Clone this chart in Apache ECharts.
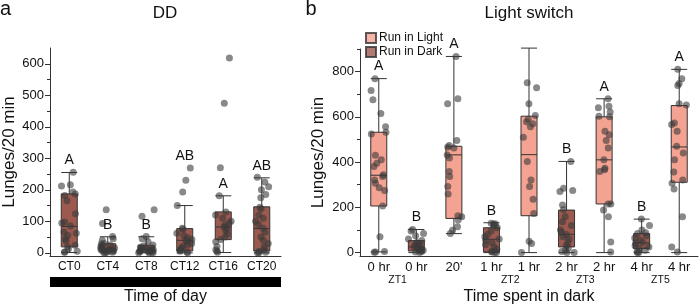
<!DOCTYPE html>
<html>
<head>
<meta charset="utf-8">
<script src="https://cdn.jsdelivr.net/npm/echarts@6/dist/echarts.min.js"></script>
<style>
  html, body { margin: 0; padding: 0; background: #fff; }
  #chart { width: 700px; height: 308px; }
</style>
</head>
<body>
<div id="chart"></div>
<script>
// ---- panel a: DD ----
const ddCategories = ['CT0', 'CT4', 'CT8', 'CT12', 'CT16', 'CT20'];
// [min, Q1, median, Q3, max]
const ddBoxes = [
  [1, 19, 84, 187, 255],
  [0, 4, 15, 29, 51],
  [0, 2, 11, 24, 51],
  [0, 6, 40, 77, 150],
  [1, 42, 82, 130, 181],
  [0, 6, 77, 146, 238]
];
const ddPoints = [
  [256, 212, 216, 193, 187, 182, 165, 124, 98, 95, 85, 66, 62, 56, 45, 38, 24, 19, 12, 5, 3, 2],
  [137, 93, 52, 45, 40, 30, 28, 25, 22, 18, 15, 14, 12, 10, 8, 6, 5, 3, 2, 0, 0],
  [137, 116, 52, 45, 35, 25, 22, 18, 15, 12, 10, 9, 8, 6, 5, 4, 3, 2, 1, 0, 0],
  [269, 230, 193, 150, 78, 75, 62, 55, 48, 42, 40, 35, 30, 25, 20, 15, 10, 8, 5, 3, 0],
  [618, 475, 270, 181, 130, 120, 110, 100, 95, 88, 82, 78, 70, 60, 50, 42, 35, 20, 10, 5, 2],
  [240, 225, 210, 200, 185, 175, 145, 140, 120, 110, 100, 90, 78, 65, 50, 40, 30, 20, 10, 5, 2, 0, 0]
];
const ddLetters = ['A', 'B', 'B', 'AB', 'A', 'AB'];
const ddLetterAt = [255, 51, 51, 269, 181, 238];
const ddTicks = [0, 100, 200, 300, 400, 500, 600];
const ddMinorTicks = [50, 150, 250, 350, 450, 550];

// ---- panel b: Light switch ----
const lsCategories = ['0 hr', '0 hr', "20'", '1 hr', '1 hr', '2 hr', '2 hr', '4 hr', '4 hr'];
const lsRun = ['Light', 'Dark', 'Light', 'Dark', 'Light', 'Dark', 'Light', 'Dark', 'Light'];
const lsBoxes = [
  [3, 206, 342, 532, 769],
  [0, 7, 25, 53, 102],
  [84, 151, 432, 470, 867],
  [0, 3, 59, 110, 132],
  [0, 163, 433, 603, 904],
  [0, 25, 81, 188, 403],
  [0, 215, 410, 600, 680],
  [0, 18, 43, 84, 148],
  [0, 311, 467, 650, 810]
];
const lsPoints = [
  [769, 717, 676, 615, 556, 532, 524, 430, 410, 395, 381, 344, 336, 321, 307, 287, 274, 206, 70, 5, 3, 2],
  [102, 95, 85, 75, 60, 53, 45, 40, 35, 30, 25, 20, 15, 10, 8, 5, 3, 0],
  [867, 680, 658, 496, 473, 467, 462, 432, 418, 359, 336, 292, 259, 163, 159, 144, 114, 99, 84],
  [130, 128, 125, 120, 110, 95, 80, 70, 60, 55, 45, 35, 25, 15, 5, 3, 0, 0],
  [904, 751, 729, 658, 606, 590, 578, 570, 556, 510, 403, 321, 292, 236, 173, 50, 40, 0],
  [403, 284, 275, 270, 210, 190, 160, 136, 120, 100, 90, 80, 70, 60, 45, 30, 20, 10, 5, 0, 0],
  [680, 647, 640, 621, 603, 600, 536, 521, 495, 462, 410, 373, 366, 358, 215, 215, 188, 158, 47, 3],
  [148, 120, 100, 88, 84, 75, 65, 55, 45, 40, 30, 25, 18, 10, 5, 0, 0],
  [810, 769, 747, 739, 658, 652, 573, 566, 536, 470, 440, 410, 356, 321, 307, 281, 158, 25, 3]
];
const lsLetters = ['A', 'B', 'A', 'B', 'A', 'B', 'A', 'B', 'A'];
const lsLetterAt = [769, 102, 867, 132, 904, 403, 680, 148, 810];
const lsTicks = [0, 200, 400, 600, 800];
const lsMinorTicks = [100, 300, 500, 700, 900];
const lsZtLabels = ['ZT1', 'ZT2', 'ZT3', 'ZT5'];
const lsZtFrom = [0, 3, 5, 7]; // first category of each pair

const LIGHT = '#f4a291';
const DARK = '#9c5a4f';
const INK = '#111';
const lineStyle = { color: '#333', width: 1 };

function flatPoints(points) {
  const out = [];
  points.forEach((vals, i) => vals.forEach(v => out.push([i, v])));
  return out;
}
function letterMarks(letters, at) {
  return letters.map((t, i) => ({ name: t, coord: [i, at[i]] }));
}
const letterMarkPoint = data => ({
  symbol: 'circle',
  symbolSize: 0,
  silent: true,
  label: { show: true, position: 'top', distance: 5, formatter: '{b}', fontSize: 14, color: INK },
  data: data
});

function mainY(grid, min, max, ticks, nameGap) {
  return {
    gridIndex: grid, type: 'value', min: min, max: max, position: 'left',
    name: 'Lunges/20 min', nameLocation: 'middle', nameGap: nameGap, nameMoveOverlap: false,
    nameTextStyle: { fontSize: 17, color: INK },
    axisLine: { show: true, onZero: false, lineStyle },
    axisTick: { show: true, length: 5, customValues: ticks, lineStyle },
    axisLabel: { customValues: ticks, fontSize: 13, color: INK, margin: 6 },
    splitLine: { show: false }
  };
}
function minorY(grid, min, max, ticks) {
  return {
    gridIndex: grid, type: 'value', min: min, max: max, position: 'left',
    axisLine: { show: false, onZero: false },
    axisTick: { show: true, length: 3, customValues: ticks, lineStyle },
    axisLabel: { show: false },
    splitLine: { show: false }
  };
}

const chart = echarts.init(document.getElementById('chart'));
chart.setOption({
  animation: false,
  textStyle: { fontFamily: '"Liberation Sans", Arial, sans-serif' },
  graphic: [
    { type: 'text', x: 0, y: 9, style: { text: 'a', fontSize: 20, fill: INK, textVerticalAlign: 'middle' } },
    { type: 'text', x: 305.5, y: 9, style: { text: 'b', fontSize: 20, fill: INK, textVerticalAlign: 'middle' } },
    { type: 'text', x: 165, y: 13, style: { text: 'DD', fontSize: 17, fill: INK, textAlign: 'center', textVerticalAlign: 'middle' } },
    { type: 'text', x: 529, y: 13, style: { text: 'Light switch', fontSize: 17, fill: INK, textAlign: 'center', textVerticalAlign: 'middle' } }
  ],
  legend: {
    left: 365, top: 32, orient: 'vertical', padding: 0,
    itemWidth: 10, itemHeight: 10, itemGap: 2, icon: 'rect', selectedMode: false,
    textStyle: { fontSize: 12, color: INK, padding: [0, 0, 0, -2] },
    data: ['Run in Light', 'Run in Dark']
  },
  grid: [
    { left: 50, top: 48, width: 231, height: 208, outerBoundsMode: 'none' },
    { left: 360, top: 49, width: 338, height: 207, outerBoundsMode: 'none' }
  ],
  xAxis: [
    {
      gridIndex: 0, type: 'category', data: ddCategories, position: 'bottom',
      jitter: 16, jitterOverlap: true,
      name: 'Time of day', nameLocation: 'middle', nameGap: 33, nameMoveOverlap: false,
      nameTextStyle: { fontSize: 16, color: INK },
      axisLine: { onZero: false, lineStyle }, axisTick: { length: 4, lineStyle },
      axisLabel: { fontSize: 12, color: INK, margin: 5 }
    },
    {
      // black "constant dark" bar under panel a
      gridIndex: 0, type: 'category', data: ddCategories, position: 'bottom', offset: 26,
      axisLine: { onZero: false, lineStyle: { color: '#000', width: 10, cap: 'butt' } },
      axisTick: { show: false }, axisLabel: { show: false }
    },
    {
      gridIndex: 1, type: 'category', data: lsCategories, position: 'bottom',
      jitter: 16, jitterOverlap: true,
      name: 'Time spent in dark', nameLocation: 'middle', nameGap: 33, nameMoveOverlap: false,
      nameTextStyle: { fontSize: 16, color: INK },
      axisLine: { onZero: false, lineStyle }, axisTick: { length: 4, lineStyle },
      axisLabel: { fontSize: 13, color: INK, margin: 5, interval: 0 }
    },
    {
      // ZT group labels between category pairs; one unit = one category band
      gridIndex: 1, type: 'value', min: 0, max: lsCategories.length, interval: 1, position: 'bottom',
      axisLine: { show: false, onZero: false }, axisTick: { show: false }, splitLine: { show: false },
      axisLabel: {
        fontSize: 10.5, color: INK, margin: 19, showMinLabel: true, showMaxLabel: true,
        formatter: v => {
          const k = lsZtFrom.indexOf(v - 1);
          return k < 0 ? '' : lsZtLabels[k];
        }
      }
    }
  ],
  yAxis: [
    mainY(0, -10, 650, ddTicks, 32),
    minorY(0, -10, 650, ddMinorTicks),
    mainY(1, -15, 900, lsTicks, 33),
    minorY(1, -15, 900, lsMinorTicks)
  ],
  series: [
    {
      type: 'boxplot', xAxisIndex: 0, yAxisIndex: 0, silent: true,
      boxWidth: [16, 16],
      itemStyle: { color: DARK, borderColor: '#333', borderWidth: 1 },
      data: ddBoxes.map(b => ({ value: b, itemStyle: { color: DARK } })),
      markPoint: letterMarkPoint(letterMarks(ddLetters, ddLetterAt))
    },
    {
      type: 'scatter', xAxisIndex: 0, yAxisIndex: 0, silent: true,
      symbolSize: 7, itemStyle: { color: '#3a3a3a', opacity: 0.6 },
      data: flatPoints(ddPoints)
    },
    {
      type: 'boxplot', xAxisIndex: 2, yAxisIndex: 2, silent: true,
      boxWidth: [16, 16],
      itemStyle: { color: LIGHT, borderColor: '#333', borderWidth: 1 },
      data: lsBoxes.map((b, i) => ({ value: b, itemStyle: { color: lsRun[i] === 'Light' ? LIGHT : DARK } })),
      markPoint: letterMarkPoint(letterMarks(lsLetters, lsLetterAt))
    },
    {
      type: 'scatter', xAxisIndex: 2, yAxisIndex: 2, silent: true,
      symbolSize: 7, itemStyle: { color: '#3a3a3a', opacity: 0.6 },
      data: flatPoints(lsPoints)
    },
    // legend entries only
    { type: 'scatter', name: 'Run in Light', xAxisIndex: 2, yAxisIndex: 2, data: [],
      itemStyle: { color: LIGHT, borderColor: '#333', borderWidth: 1 } },
    { type: 'scatter', name: 'Run in Dark', xAxisIndex: 2, yAxisIndex: 2, data: [],
      itemStyle: { color: DARK, borderColor: '#333', borderWidth: 1 } }
  ]
});
</script>
</body>
</html>
